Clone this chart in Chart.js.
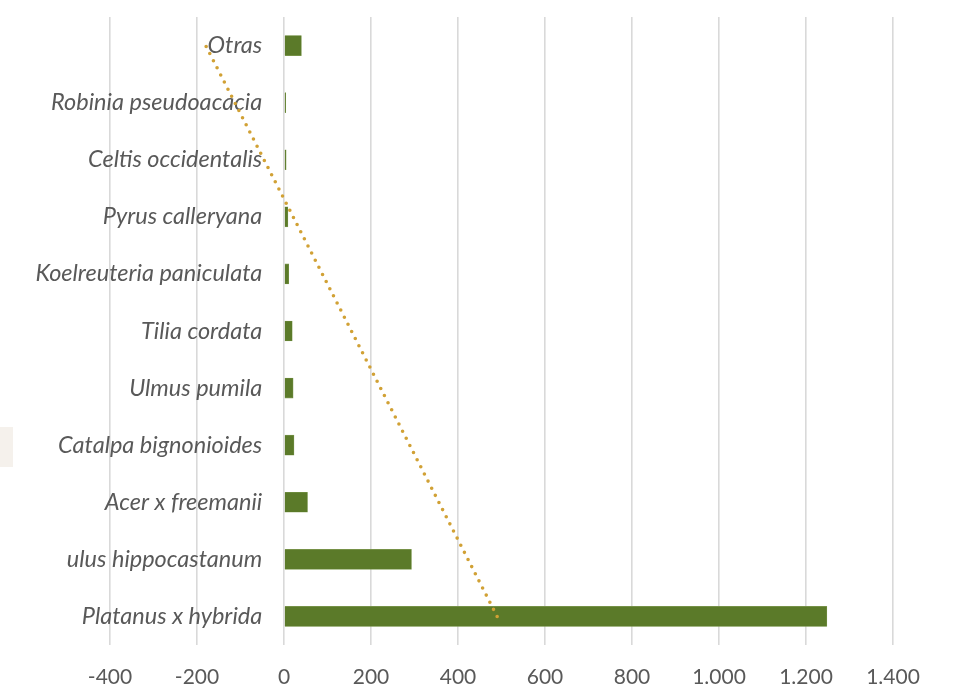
<!DOCTYPE html>
<html>
<head>
<meta charset="utf-8">
<script src="https://cdn.jsdelivr.net/npm/chart.js@4"></script>
<style>
  html, body { margin: 0; padding: 0; background: #ffffff; }
  #wrap { position: relative; width: 956px; height: 690px; }
  #patch { position: absolute; left: 0; top: 427px; width: 13px; height: 40px; background: #f5f1ec; }
</style>
</head>
<body>
<div id="wrap">
  <canvas id="chart" width="956" height="690"></canvas>
  <div id="patch"></div>
</div>
<script>
// especies, de arriba a abajo
const species = [
  'Otras',
  'Robinia pseudoacacia',
  'Celtis occidentalis',
  'Pyrus calleryana',
  'Koelreuteria paniculata',
  'Tilia cordata',
  'Ulmus pumila',
  'Catalpa bignonioides',
  'Acer x freemanii',
  'ulus hippocastanum',
  'Platanus x hybrida'
]
const trees = [40, 4, 5, 9, 11, 19, 21, 23, 54, 293, 1248]

// linea de tendencia: extremos
const trendEnds = [
  { x: 490, y: 'Platanus x hybrida' },
  { x: -180, y: 'Otras' }
]

const xMin = -400
const xMax = 1400
const xStep = 200

const fmt = new Intl.NumberFormat('de-DE')

new Chart(document.getElementById('chart'), {
  type: 'bar',
  data: {
    labels: species,
    datasets: [
      {
        type: 'line',
        data: trendEnds,
        borderColor: '#d1a135',
        borderWidth: 3.6,
        borderDash: [0, 8],
        borderCapStyle: 'round',
        pointRadius: 0,
        fill: false
      },
      {
        data: trees,
        backgroundColor: '#5b7a29',
        borderColor: '#7f9a52',
        borderWidth: 0.6,
        barThickness: 20
      }
    ]
  },
  options: {
    indexAxis: 'y',
    responsive: false,
    animation: false,
    layout: { padding: { left: 110, right: 63, top: 17, bottom: 0 } },
    plugins: { legend: { display: false }, tooltip: { enabled: false } },
    scales: {
      x: {
        min: xMin, max: xMax,
        afterFit: s => { s.height = 45 },
        ticks: {
          stepSize: xStep,
          color: '#595959',
          font: { family: 'Lato', size: 21 },
          padding: 20,
          callback: v => fmt.format(v)
        },
        grid: { color: '#d9d9d9', lineWidth: 1.6, drawTicks: false },
        border: { display: false }
      },
      y: {
        // etiquetas pegadas un poco a la izquierda del cero
        position: { x: -50 },
        afterFit: s => { s.paddingTop = 0; s.paddingBottom = 0 },
        ticks: { color: '#595959', font: { family: 'Lato', size: 23.5, style: 'italic' } },
        grid: { display: false, drawTicks: false },
        border: { display: false }
      }
    }
  }
})
</script>
</body>
</html>
